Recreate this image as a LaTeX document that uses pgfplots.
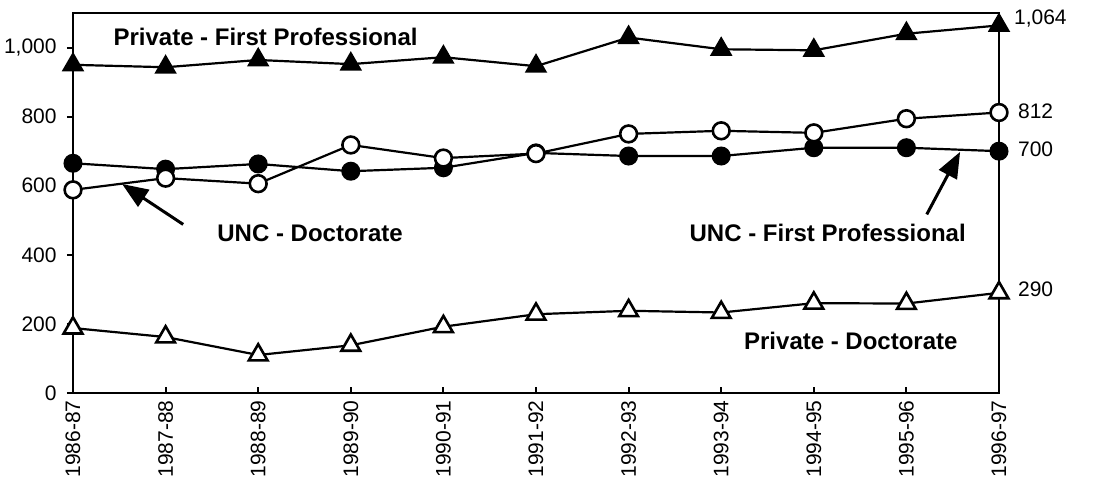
\documentclass[border=0pt]{standalone}
\usepackage{fontspec}
\setmainfont{Liberation Sans}
\usepackage{pgfplots}
\pgfplotsset{compat=1.18}
\usetikzlibrary{arrows.meta}
\begin{document}
\begin{tikzpicture}
\begin{axis}[
  name=ax,
  scale only axis,
  width=463pt, height=190pt,
  xmin=0, xmax=10, ymin=0, ymax=1100,
  axis line style={line width=1.2pt},
  xtick={0,...,10},
  xticklabels={1986-87,1987-88,1988-89,1989-90,1990-91,1991-92,1992-93,1993-94,1994-95,1995-96,1996-97},
  xticklabel style={rotate=90, anchor=east, font=\fontsize{10.5}{12}\selectfont, inner sep=3.5pt},
  ytick={0,200,400,600,800,1000},
  yticklabels={0,200,400,600,800,{1,000}},
  yticklabel style={font=\fontsize{10.5}{12}\selectfont, inner sep=5pt},
  xtick pos=bottom, ytick pos=left,
  ytick align=outside, xtick align=inside,
  major tick length=3pt,
  tick style={line width=1pt, black},
  clip=false,
]
% Private - First Professional
\addplot[black, line width=1.1pt, mark=triangle*, mark size=5.4pt, mark options={fill=black}]
 coordinates {(0,950)(1,943)(2,964)(3,952)(4,972)(5,946)(6,1029)(7,995)(8,992)(9,1040)(10,1064)};
% UNC - First Professional
\addplot[black, line width=1.1pt, mark=*, mark size=4.2pt, mark options={fill=black}]
 coordinates {(0,665)(1,648)(2,663)(3,642)(4,652)(5,695)(6,686)(7,686)(8,710)(9,710)(10,700)};
% UNC - Doctorate
\addplot[black, line width=1.1pt, mark=*, mark size=4.2pt, mark options={fill=white, line width=1.3pt}]
 coordinates {(0,588)(1,622)(2,606)(3,718)(4,680)(5,693)(6,750)(7,759)(8,753)(9,794)(10,812)};
% Private - Doctorate
\addplot[black, line width=1.1pt, mark=triangle*, mark size=5.4pt, mark options={fill=white, line width=1.3pt}]
 coordinates {(0,188)(1,162)(2,110)(3,138)(4,192)(5,228)(6,238)(7,233)(8,260)(9,259)(10,290)};

\node[font=\bfseries\fontsize{12}{14}\selectfont] at (axis cs:2.08,1032) {Private - First Professional};
\node[font=\bfseries\fontsize{12}{14}\selectfont] at (axis cs:2.56,462) {UNC - Doctorate};
\node[font=\bfseries\fontsize{12}{14}\selectfont] at (axis cs:8.15,462) {UNC - First Professional};
\node[font=\bfseries\fontsize{12}{14}\selectfont] at (axis cs:8.4,152) {Private - Doctorate};
\draw[line width=1.5pt, -{Triangle[length=13pt,width=10pt]}] (axis cs:1.19,488) -- (axis cs:0.53,605);
\draw[line width=1.5pt, -{Triangle[length=13pt,width=10pt]}] (axis cs:9.22,517) -- (axis cs:9.58,698);
\node[anchor=west, font=\fontsize{10.5}{12}\selectfont] at (axis cs:10,1085) [xshift=4pt] {1,064};
\node[anchor=west, font=\fontsize{10.5}{12}\selectfont] at (axis cs:10,815) [xshift=6pt] {812};
\node[anchor=west, font=\fontsize{10.5}{12}\selectfont] at (axis cs:10,705) [xshift=6pt] {700};
\node[anchor=west, font=\fontsize{10.5}{12}\selectfont] at (axis cs:10,300) [xshift=6pt] {290};
\end{axis}
\pgfresetboundingbox
\path ([shift={(-36.5pt,-44pt)}]ax.south west) rectangle ([shift={(49pt,6.5pt)}]ax.north east);
\end{tikzpicture}
\end{document}
